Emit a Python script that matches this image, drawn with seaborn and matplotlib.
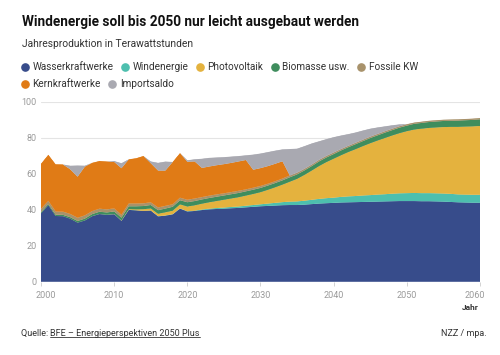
import pandas as pd
import seaborn as sns
import seaborn.objects as so
import matplotlib.pyplot as plt
import matplotlib.transforms as mtransforms
from matplotlib.lines import Line2D

sns.set_theme(style="white")
plt.rcParams['font.family'] = ['Roboto', 'DejaVu Sans']

# data (TWh per year)
years = list(range(2000, 2061))

wasser = [38.0, 42.5, 36.5, 36.4, 35.0, 32.8, 34.0, 36.4, 37.6, 37.1,
          37.5, 33.8, 39.9, 39.6, 39.3, 39.5, 36.3, 36.7, 37.4, 40.6,
          39.0, 39.3, 39.8, 40.2, 40.4, 40.6, 40.8, 41.0, 41.3, 41.6,
          41.9, 42.1, 42.3, 42.5, 42.6, 42.6, 42.8, 43.1, 43.4, 43.6,
          43.8, 44.0, 44.1, 44.2, 44.3, 44.4, 44.5, 44.6, 44.7, 44.8,
          44.8, 44.8, 44.7, 44.7, 44.6, 44.5, 44.3, 44.1, 44.0, 43.9,
          43.9]
wind = [0.0, 0.0, 0.0, 0.0, 0.0, 0.01, 0.02, 0.02, 0.02, 0.02,
        0.04, 0.07, 0.09, 0.09, 0.1, 0.11, 0.13, 0.13, 0.12, 0.15,
        0.15, 0.2, 0.3, 0.4, 0.5, 0.6, 0.7, 0.8, 0.9, 1.0,
        1.1, 1.3, 1.5, 1.7, 1.9, 2.0, 2.2, 2.4, 2.6, 2.8,
        2.9, 3.1, 3.3, 3.4, 3.6, 3.7, 3.9, 4.0, 4.2, 4.3,
        4.4, 4.5, 4.5, 4.5, 4.5, 4.5, 4.5, 4.4, 4.4, 4.4,
        4.4]
pv = [0.01, 0.01, 0.02, 0.02, 0.02, 0.02, 0.02, 0.03, 0.04, 0.05,
      0.09, 0.17, 0.3, 0.5, 0.84, 1.1, 1.3, 1.7, 1.9, 2.2,
      2.6, 2.9, 3.2, 3.5, 3.9, 4.3, 4.7, 5.1, 5.6, 6.1,
      6.7, 7.6, 8.6, 9.7, 11.0, 12.5, 14.3, 16.2, 18.2, 20.0,
      21.6, 23.1, 24.6, 26.0, 27.4, 28.8, 30.0, 31.2, 32.3, 33.4,
      34.4, 35.2, 35.8, 36.2, 36.6, 36.9, 37.2, 37.5, 37.8, 38.0,
      38.2]
bio = [0.6, 0.6, 0.7, 0.7, 0.8, 0.9, 1.0, 1.1, 1.2, 1.3,
       1.4, 1.5, 1.6, 1.7, 1.8, 1.9, 2.0, 2.1, 2.2, 2.3,
       2.4, 2.4, 2.4, 2.4, 2.4, 2.4, 2.4, 2.4, 2.4, 2.4,
       2.4, 2.4, 2.4, 2.4, 2.5, 2.5, 2.5, 2.5, 2.6, 2.6,
       2.6, 2.7, 2.7, 2.8, 2.8, 2.9, 2.9, 3.0, 3.0, 3.1,
       3.1, 3.2, 3.2, 3.3, 3.3, 3.4, 3.4, 3.5, 3.5, 3.6,
       3.7]
fossil = [1.8, 1.8, 1.8, 1.8, 1.8, 1.8, 1.8, 1.7, 1.7, 1.7,
          1.7, 1.6, 1.6, 1.6, 1.5, 1.5, 1.5, 1.5, 1.4, 1.4,
          1.4, 1.4, 1.3, 1.3, 1.3, 1.2, 1.2, 1.2, 1.1, 1.1,
          1.1, 1.0, 1.0, 1.0, 1.0, 1.0, 0.9, 0.9, 0.9, 0.9,
          0.9, 0.8, 0.8, 0.8, 0.8, 0.8, 0.8, 0.8, 0.8, 0.8,
          0.8, 0.7, 0.7, 0.7, 0.7, 0.7, 0.7, 0.7, 0.7, 0.7,
          0.7]
kern = [25.1, 25.6, 26.2, 26.2, 24.8, 22.8, 27.1, 26.8, 26.5, 26.6,
        25.8, 25.9, 24.5, 25.1, 26.3, 21.7, 20.5, 19.6, 23.5, 24.8,
        21.1, 20.6, 16.2, 16.2, 16.2, 16.2, 16.2, 16.3, 16.3, 10.0,
        9.9, 9.8, 9.7, 9.6, 0, 0, 0, 0, 0, 0,
        0, 0, 0, 0, 0, 0, 0, 0, 0, 0,
        0, 0, 0, 0, 0, 0, 0, 0, 0, 0,
        0]
importsaldo = [0, 0, 0, 0, 2.0, 6.2, 0.5, 0, 0, 0,
               0.5, 2.8, 0, 0, 0, 1.0, 4.3, 5.0, 0, 0,
               0.8, 1.2, 5.1, 4.8, 4.3, 3.9, 3.5, 3.0, 2.6, 8.4,
               8.1, 7.8, 7.3, 6.6, 14.7, 13.3, 12.6, 11.7, 10.3, 9.3,
               8.5, 7.5, 6.5, 5.7, 5.1, 4.4, 3.6, 2.7, 1.9, 1.0,
               0, 0, 0, 0, 0, 0, 0, 0, 0, 0,
               0]

names = ["Wasserkraftwerke", "Windenergie", "Photovoltaik", "Biomasse usw.",
         "Fossile KW", "Kernkraftwerke", "Importsaldo"]
colors = ["#374c8b", "#4dbfae", "#e4b23e", "#3f8d5d", "#a8926b", "#e07b16", "#a9a9b1"]
pal = dict(zip(names, colors))

df = pd.DataFrame({"Jahr": years, names[0]: wasser, names[1]: wind, names[2]: pv,
                   names[3]: bio, names[4]: fossil, names[5]: kern, names[6]: importsaldo})
df = df.melt(id_vars="Jahr", var_name="Quelle", value_name="TWh")

fig = plt.figure(figsize=(5, 3.55), dpi=100)
ax = fig.add_axes([0.082, 0.2065, 0.878, 0.507])

so.Plot.config.theme.update(sns.axes_style("white"))
(so.Plot(df, x="Jahr", y="TWh", color="Quelle")
    .add(so.Area(alpha=1, edgewidth=0.4), so.Stack(), legend=False)
    .scale(color=so.Nominal(pal, order=names))
    .on(ax)
    .plot())

grey = "#9a9a9a"
ax.set_xlim(2000, 2060)
ax.set_ylim(0, 100)
ax.set_yticks([0, 20, 40, 60, 80, 100])
ax.set_xticks(range(2000, 2061, 10))
ax.set_xlabel("")
ax.set_ylabel("")
ax.set_facecolor("white")
for s in ax.spines.values():
    s.set_visible(False)
ax.yaxis.grid(True, color="#e4e4e4", lw=0.8)
ax.set_axisbelow(True)
ax.tick_params(axis="y", length=0, pad=3, labelsize=6.5, labelcolor=grey)
ax.tick_params(axis="x", length=3, width=0.6, color="#cccccc", pad=4,
               labelsize=6.5, labelcolor=grey, direction="out", bottom=True)
labels = ax.get_xticklabels()
labels[0].set_transform(labels[0].get_transform() + mtransforms.ScaledTranslation(5 / 100, 0, fig.dpi_scale_trans))
labels[-1].set_transform(labels[-1].get_transform() + mtransforms.ScaledTranslation(-5 / 100, 0, fig.dpi_scale_trans))

fig.text(479 / 500, 1 - 307 / 355, "Jahr", ha="right", va="center",
         fontsize=6, fontweight="bold", color="#333333")

# title block
fig.text(22 / 500, 1 - 22 / 355, "Windenergie soll bis 2050 nur leicht ausgebaut werden",
         ha="left", va="center", fontsize=9.8, fontweight="bold", color="#111111")
fig.text(22 / 500, 1 - 44 / 355, "Jahresproduktion in Terawattstunden",
         ha="left", va="center", fontsize=7.35, color="#333333")

def handles(keys):
    return [Line2D([], [], ls="", marker="o", markersize=5.2, color=pal[k], label=k) for k in keys]

leg_kw = dict(frameon=False, loc="center left", fontsize=7.2, handlelength=0.8,
              handletextpad=0.35, columnspacing=0.75, borderpad=0, borderaxespad=0,
              labelcolor="#333333")
fig.legend(handles=handles(names[:5]), ncol=5, bbox_to_anchor=(21 / 500, 1 - 67 / 355), **leg_kw)
fig.legend(handles=handles(names[5:]), ncol=2, bbox_to_anchor=(21 / 500, 1 - 84 / 355), **leg_kw)

# footer
fs = 6.5
q = fig.text(21 / 500, 1 - 333 / 355, "Quelle: ", ha="left", va="center", fontsize=fs, color="#333333")
fig.text(487 / 500, 1 - 333 / 355, "NZZ / mpa.", ha="right", va="center", fontsize=fs, color="#333333")
fig.canvas.draw()
r = fig.canvas.get_renderer()
bb = q.get_window_extent(r)
inv = fig.transFigure.inverted()
x0 = inv.transform((bb.x1, bb.y0))[0]
src = fig.text(x0, 1 - 333 / 355, "BFE – Energieperspektiven 2050 Plus", ha="left", va="center",
               fontsize=fs, color="#333333")
bb2 = src.get_window_extent(r)
(ux0, uy), (ux1, _) = inv.transform([(bb2.x0, bb2.y0 + 0.5), (bb2.x1, bb2.y0 + 0.5)])
fig.add_artist(Line2D([ux0, ux1], [uy, uy], transform=fig.transFigure, color="#333333", lw=0.6))

fig.savefig("out.png", dpi=100)
